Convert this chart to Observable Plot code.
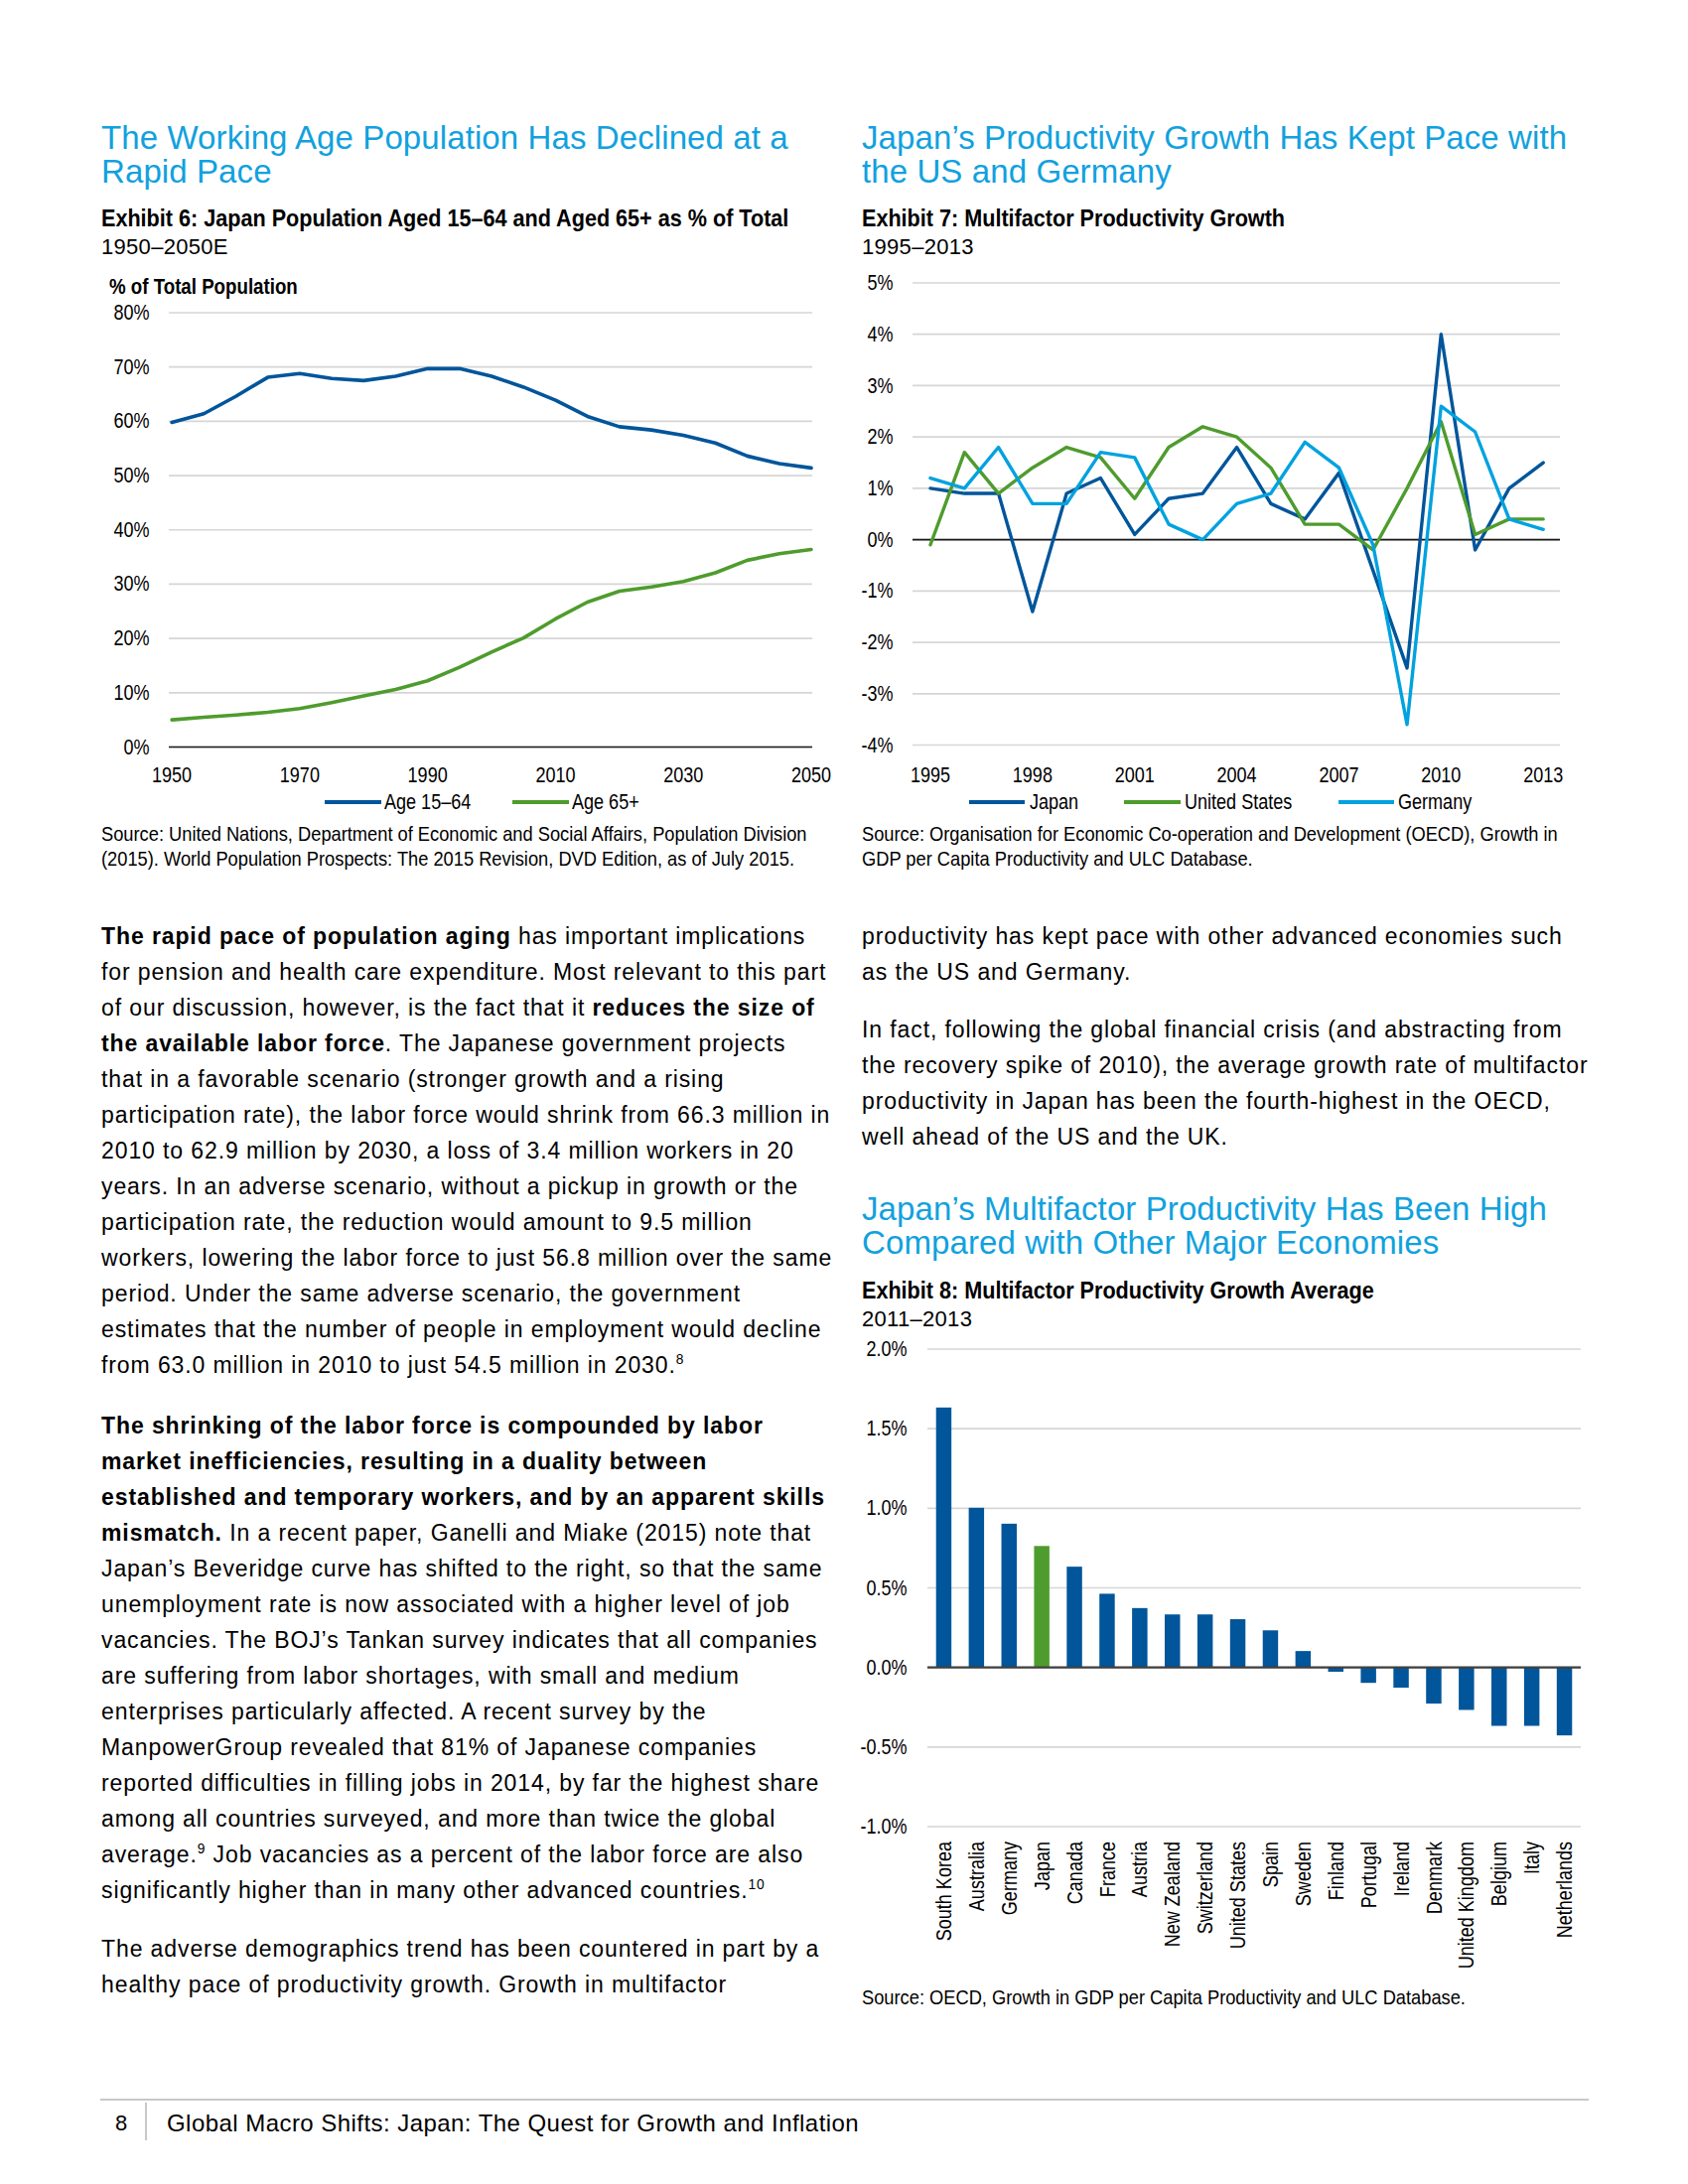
<!DOCTYPE html>
<html><head><meta charset="utf-8">
<script src="https://cdn.jsdelivr.net/npm/d3@7"></script>
<script src="https://cdn.jsdelivr.net/npm/@observablehq/plot@0.6"></script>
<style>
html,body{margin:0;padding:0;background:#fff;}
#page{position:relative;width:1700px;height:2200px;overflow:hidden;font-family:"Liberation Sans",Arial,Helvetica,sans-serif;color:#000;background:#fff;}
.t{position:absolute;white-space:nowrap;}
.n{display:inline-block;transform-origin:0 0;}
.chart{position:absolute;}
.chart svg{overflow:visible;}
sup{font-size:0.6em;line-height:0;vertical-align:0.65em;}
.sw{position:absolute;height:4px;}
</style></head><body><div id="page"></div>
<script>
// ---------- DATA ----------
const popYears = [1950,1955,1960,1965,1970,1975,1980,1985,1990,1995,2000,2005,2010,2015,2020,2025,2030,2035,2040,2045,2050];
const age1564 = [59.8,61.4,64.6,68.1,68.8,67.9,67.5,68.3,69.7,69.7,68.3,66.3,63.9,60.9,59.0,58.4,57.4,56.0,53.6,52.2,51.4];
const age65   = [5.0,5.5,5.9,6.4,7.1,8.2,9.4,10.6,12.2,14.7,17.5,20.1,23.6,26.7,28.7,29.5,30.5,32.1,34.4,35.6,36.4];
const popSeries = ["Age 15–64","Age 65+"];
const popXTicks = [1950,1970,1990,2010,2030,2050];
const popYTicks = [0,10,20,30,40,50,60,70,80];

const mfpYears = [1995,1996,1997,1998,1999,2000,2001,2002,2003,2004,2005,2006,2007,2008,2009,2010,2011,2012,2013];
const japanMfp   = [1.0,0.9,0.9,-1.4,0.9,1.2,0.1,0.8,0.9,1.8,0.7,0.4,1.3,-0.6,-2.5,4.0,-0.2,1.0,1.5];
const usMfp      = [-0.1,1.7,0.9,1.4,1.8,1.6,0.8,1.8,2.2,2.0,1.4,0.3,0.3,-0.2,1.0,2.3,0.1,0.4,0.4];
const germanyMfp = [1.2,1.0,1.8,0.7,0.7,1.7,1.6,0.3,0.0,0.7,0.9,1.9,1.4,-0.1,-3.6,2.6,2.1,0.4,0.2];
const mfpSeries = ["Japan","United States","Germany"];
const mfpXTicks = [1995,1998,2001,2004,2007,2010,2013];
const mfpYTicks = [-4,-3,-2,-1,0,1,2,3,4,5];

const countries = ["South Korea","Australia","Germany","Japan","Canada","France","Austria","New Zealand","Switzerland","United States","Spain","Sweden","Finland","Portugal","Ireland","Denmark","United Kingdom","Belgium","Italy","Netherlands"];
const avgMfp = [1.63,1.00,0.90,0.76,0.63,0.46,0.37,0.33,0.33,0.30,0.23,0.10,-0.03,-0.10,-0.13,-0.23,-0.27,-0.37,-0.37,-0.43];
const avgYTicks = [-1.0,-0.5,0.0,0.5,1.0,1.5,2.0];

// ---------- STYLE ----------
const BLUE = "#00559b", GREEN = "#4e9c2d", LIGHT = "#00a2df", CYAN = "#11a1de", GRID = "#d6d6d6";
const SANS = '"Liberation Sans",Arial,Helvetica,sans-serif';
const AXIS_K = 0.82;
const page = document.getElementById("page");

function txt(html, x, baseline, o = {}) {
  const size = o.size || 22, lh = o.lh || Math.round(size * 1.25);
  const d = document.createElement("div");
  d.className = "t";
  d.style.left = x + "px";
  d.style.top = (baseline - lh / 2 - 0.3465 * size) + "px";
  d.style.fontSize = size + "px";
  d.style.lineHeight = lh + "px";
  d.style.fontFamily = SANS;
  if (o.weight) d.style.fontWeight = o.weight;
  if (o.color) d.style.color = o.color;
  if (o.ls != null) d.style.letterSpacing = o.ls + "px";
  d.innerHTML = o.narrow ? `<span class="n" style="transform:scaleX(${o.narrow})">${html}</span>` : html;
  page.appendChild(d);
  return d;
}
function lines(arr, x, first, step, o) { arr.forEach((h, i) => txt(h, x, first + i * step, o)); }
function swatch(x1, x2, y, color) {
  const d = document.createElement("div");
  d.className = "sw";
  d.style.left = x1 + "px"; d.style.width = (x2 - x1) + "px";
  d.style.top = (y - 2) + "px"; d.style.background = color;
  page.appendChild(d);
}
// condense the Plot's own text horizontally (no narrow font is installed)
function condense(svg) {
  svg.querySelectorAll("text").forEach(t => {
    const xa = t.getAttribute("x");
    let tx = 0;
    if (xa != null && /^-?[\d.]+$/.test(xa.trim())) { tx = +xa; t.removeAttribute("x"); }
    const tr = t.getAttribute("transform") || "";
    t.setAttribute("transform", `${tr} translate(${tx},0) scale(${AXIS_K},1)`);
  });
  return svg;
}
function place(svg, left, top) {
  const d = document.createElement("div");
  d.className = "chart";
  d.style.left = left + "px"; d.style.top = top + "px";
  d.appendChild(condense(svg));
  page.appendChild(d);
}

const LX = 102, RX = 868;
const TITLE = {size: 33, color: CYAN, ls: 0.1};
const EXH = {size: 24, weight: "bold", narrow: 0.9};
const SUB = {size: 22, ls: 0.3};
const SRC = {size: 21, narrow: 0.87};
const LEG = {size: 22, narrow: 0.82};
const BODY = {size: 23, ls: 0.9};

// ---------- HEADINGS ----------
txt("The Working Age Population Has Declined at a", LX, 149.5, TITLE);
txt("Rapid Pace", LX, 183.5, TITLE);
txt("Exhibit 6: Japan Population Aged 15–64 and Aged 65+ as % of Total", LX, 228.5, EXH);
txt("1950–2050E", LX, 256.7, SUB);
txt("% of Total Population", 110, 296.5, {size: 22, weight: "bold", narrow: 0.85});

txt("Japan’s Productivity Growth Has Kept Pace with", RX, 149.5, TITLE);
txt("the US and Germany", RX, 183.5, TITLE);
txt("Exhibit 7: Multifactor Productivity Growth", RX, 228.5, EXH);
txt("1995–2013", RX, 256.7, SUB);

txt("Japan’s Multifactor Productivity Has Been High", RX, 1229, TITLE);
txt("Compared with Other Major Economies", RX, 1263, TITLE);
txt("Exhibit 8: Multifactor Productivity Growth Average", RX, 1308, EXH);
txt("2011–2013", RX, 1336.5, SUB);

const chartStyle = {fontFamily: SANS, fontSize: "22px", background: "transparent", color: "#000", overflow: "visible"};

// ---------- CHART 1 ----------
const popData = popYears.flatMap((y, i) => [
  {year: y, value: age1564[i], series: popSeries[0]},
  {year: y, value: age65[i], series: popSeries[1]}
]);
const chart1 = Plot.plot({
  width: 745, height: 500, marginLeft: 70, marginRight: 27, marginTop: 14.5, marginBottom: 48,
  style: chartStyle,
  x: {domain: [1950, 2050], insetLeft: 2.6, insetRight: 1.5},
  y: {domain: [0, 80]},
  color: {domain: popSeries, range: [BLUE, GREEN]},
  marks: [
    Plot.gridY(popYTicks, {stroke: GRID, strokeOpacity: 1, strokeWidth: 1.7}),
    Plot.ruleY([0], {stroke: "#1a1a1a", strokeWidth: 1.6}),
    Plot.axisY(popYTicks, {tickSize: 0, tickPadding: 20, tickFormat: d => d + "%", label: null}),
    Plot.axisX(popXTicks, {tickSize: 0, tickPadding: 19.4, tickFormat: d => String(d), label: null}),
    Plot.line(popData, {x: "year", y: "value", z: "series", stroke: "series", strokeWidth: 3.6})
  ]
});
place(chart1, 100, 300);
swatch(327, 384, 807.6, BLUE); txt(popSeries[0], 387, 815.5, LEG);
swatch(516, 573, 807.6, GREEN); txt(popSeries[1], 576, 815.5, LEG);
txt("Source: United Nations, Department of Economic and Social Affairs, Population Division", LX, 847, SRC);
txt("(2015). World Population Prospects: The 2015 Revision, DVD Edition, as of July 2015.", LX, 872, SRC);

// ---------- CHART 2 ----------
const mfpData = mfpYears.flatMap((y, i) => [
  {year: y, value: japanMfp[i], series: mfpSeries[0]},
  {year: y, value: usMfp[i], series: mfpSeries[1]},
  {year: y, value: germanyMfp[i], series: mfpSeries[2]}
]);
const chart2 = Plot.plot({
  width: 736, height: 530, marginLeft: 59, marginRight: 25, marginTop: 14.5, marginBottom: 50,
  style: chartStyle,
  x: {domain: [1995, 2013], insetLeft: 17.5, insetRight: 17.3},
  y: {domain: [-4, 5]},
  color: {domain: mfpSeries, range: [BLUE, GREEN, LIGHT]},
  marks: [
    Plot.gridY(mfpYTicks, {stroke: GRID, strokeOpacity: 1, strokeWidth: 1.7}),
    Plot.ruleY([0], {stroke: "#1a1a1a", strokeWidth: 1.6}),
    Plot.axisY(mfpYTicks, {tickSize: 0, tickPadding: 20, tickFormat: d => d + "%", label: null}),
    Plot.axisX(mfpXTicks, {tickSize: 0, tickPadding: 21.4, tickFormat: d => String(d), label: null}),
    Plot.line(mfpData, {x: "year", y: "value", z: "series", stroke: "series", strokeWidth: 3.4})
  ]
});
place(chart2, 860, 270);
swatch(976, 1032, 807.6, BLUE); txt(mfpSeries[0], 1037, 815.5, LEG);
swatch(1132, 1189, 807.6, GREEN); txt(mfpSeries[1], 1193, 815.5, LEG);
swatch(1348, 1404, 807.6, LIGHT); txt(mfpSeries[2], 1408, 815.5, LEG);
txt("Source: Organisation for Economic Co-operation and Development (OECD), Growth in", RX, 847, SRC);
txt("GDP per Capita Productivity and ULC Database.", RX, 872, SRC);

// ---------- CHART 3 ----------
const avgData = countries.map((c, i) => ({country: c, value: avgMfp[i], group: c === "Japan" ? "Japan" : "Other"}));
const chart3 = Plot.plot({
  width: 742, height: 680, marginLeft: 74, marginRight: 10, marginTop: 18.5, marginBottom: 180.5,
  style: chartStyle,
  x: {domain: countries, paddingInner: 0.53, paddingOuter: 0.265, round: false},
  y: {domain: [-1, 2]},
  color: {domain: ["Other", "Japan"], range: [BLUE, GREEN]},
  marks: [
    Plot.gridY(avgYTicks, {stroke: GRID, strokeOpacity: 1, strokeWidth: 1.7}),
    Plot.barY(avgData, {x: "country", y: "value", fill: "group"}),
    Plot.ruleY([0], {stroke: "#404040", strokeWidth: 2.2}),
    Plot.axisY(avgYTicks, {tickSize: 0, tickPadding: 21, tickFormat: d => d.toFixed(1) + "%", label: null}),
    Plot.axisX({tickSize: 0, tickPadding: 15, tickRotate: -90, textAnchor: "end", label: null})
  ]
});
place(chart3, 860, 1340);
txt("Source: OECD, Growth in GDP per Capita Productivity and ULC Database.", RX, 2019, SRC);

// ---------- BODY TEXT ----------
const STEP = 36.05;
lines([
  "<b>The rapid pace of population aging</b> has important implications",
  "for pension and health care expenditure. Most relevant to this part",
  "of our discussion, however, is the fact that it <b>reduces the size of</b>",
  "<b>the available labor force</b>. The Japanese government projects",
  "that in a favorable scenario (stronger growth and a rising",
  "participation rate), the labor force would shrink from 66.3 million in",
  "2010 to 62.9 million by 2030, a loss of 3.4 million workers in 20",
  "years. In an adverse scenario, without a pickup in growth or the",
  "participation rate, the reduction would amount to 9.5 million",
  "workers, lowering the labor force to just 56.8 million over the same",
  "period. Under the same adverse scenario, the government",
  "estimates that the number of people in employment would decline",
  "from 63.0 million in 2010 to just 54.5 million in 2030.<sup>8</sup>"
], LX, 951, STEP, BODY);
lines([
  "<b>The shrinking of the labor force is compounded by labor</b>",
  "<b>market inefficiencies, resulting in a duality between</b>",
  "<b>established and temporary workers, and by an apparent skills</b>",
  "<b>mismatch.</b> In a recent paper, Ganelli and Miake (2015) note that",
  "Japan’s Beveridge curve has shifted to the right, so that the same",
  "unemployment rate is now associated with a higher level of job",
  "vacancies. The BOJ’s Tankan survey indicates that all companies",
  "are suffering from labor shortages, with small and medium",
  "enterprises particularly affected. A recent survey by the",
  "ManpowerGroup revealed that 81% of Japanese companies",
  "reported difficulties in filling jobs in 2014, by far the highest share",
  "among all countries surveyed, and more than twice the global",
  "average.<sup>9</sup> Job vacancies as a percent of the labor force are also",
  "significantly higher than in many other advanced countries.<sup>10</sup>"
], LX, 1444, STEP, BODY);
lines([
  "The adverse demographics trend has been countered in part by a",
  "healthy pace of productivity growth. Growth in multifactor"
], LX, 1971.5, STEP, BODY);
lines([
  "productivity has kept pace with other advanced economies such",
  "as the US and Germany."
], RX, 951, STEP, BODY);
lines([
  "In fact, following the global financial crisis (and abstracting from",
  "the recovery spike of 2010), the average growth rate of multifactor",
  "productivity in Japan has been the fourth-highest in the OECD,",
  "well ahead of the US and the UK."
], RX, 1045.5, STEP, BODY);

// ---------- FOOTER ----------
const rule = document.createElement("div");
rule.style.cssText = "position:absolute;left:101px;top:2114px;width:1499px;height:2px;background:#c8c8c8;";
page.appendChild(rule);
const sep = document.createElement("div");
sep.style.cssText = "position:absolute;left:146px;top:2118px;width:1.5px;height:38px;background:#c8c8c8;";
page.appendChild(sep);
txt("8", 116, 2147, {size: 22});
txt("Global Macro Shifts: Japan: The Quest for Growth and Inflation", 168, 2147, {size: 24, ls: 0.45});
</script></body></html>
